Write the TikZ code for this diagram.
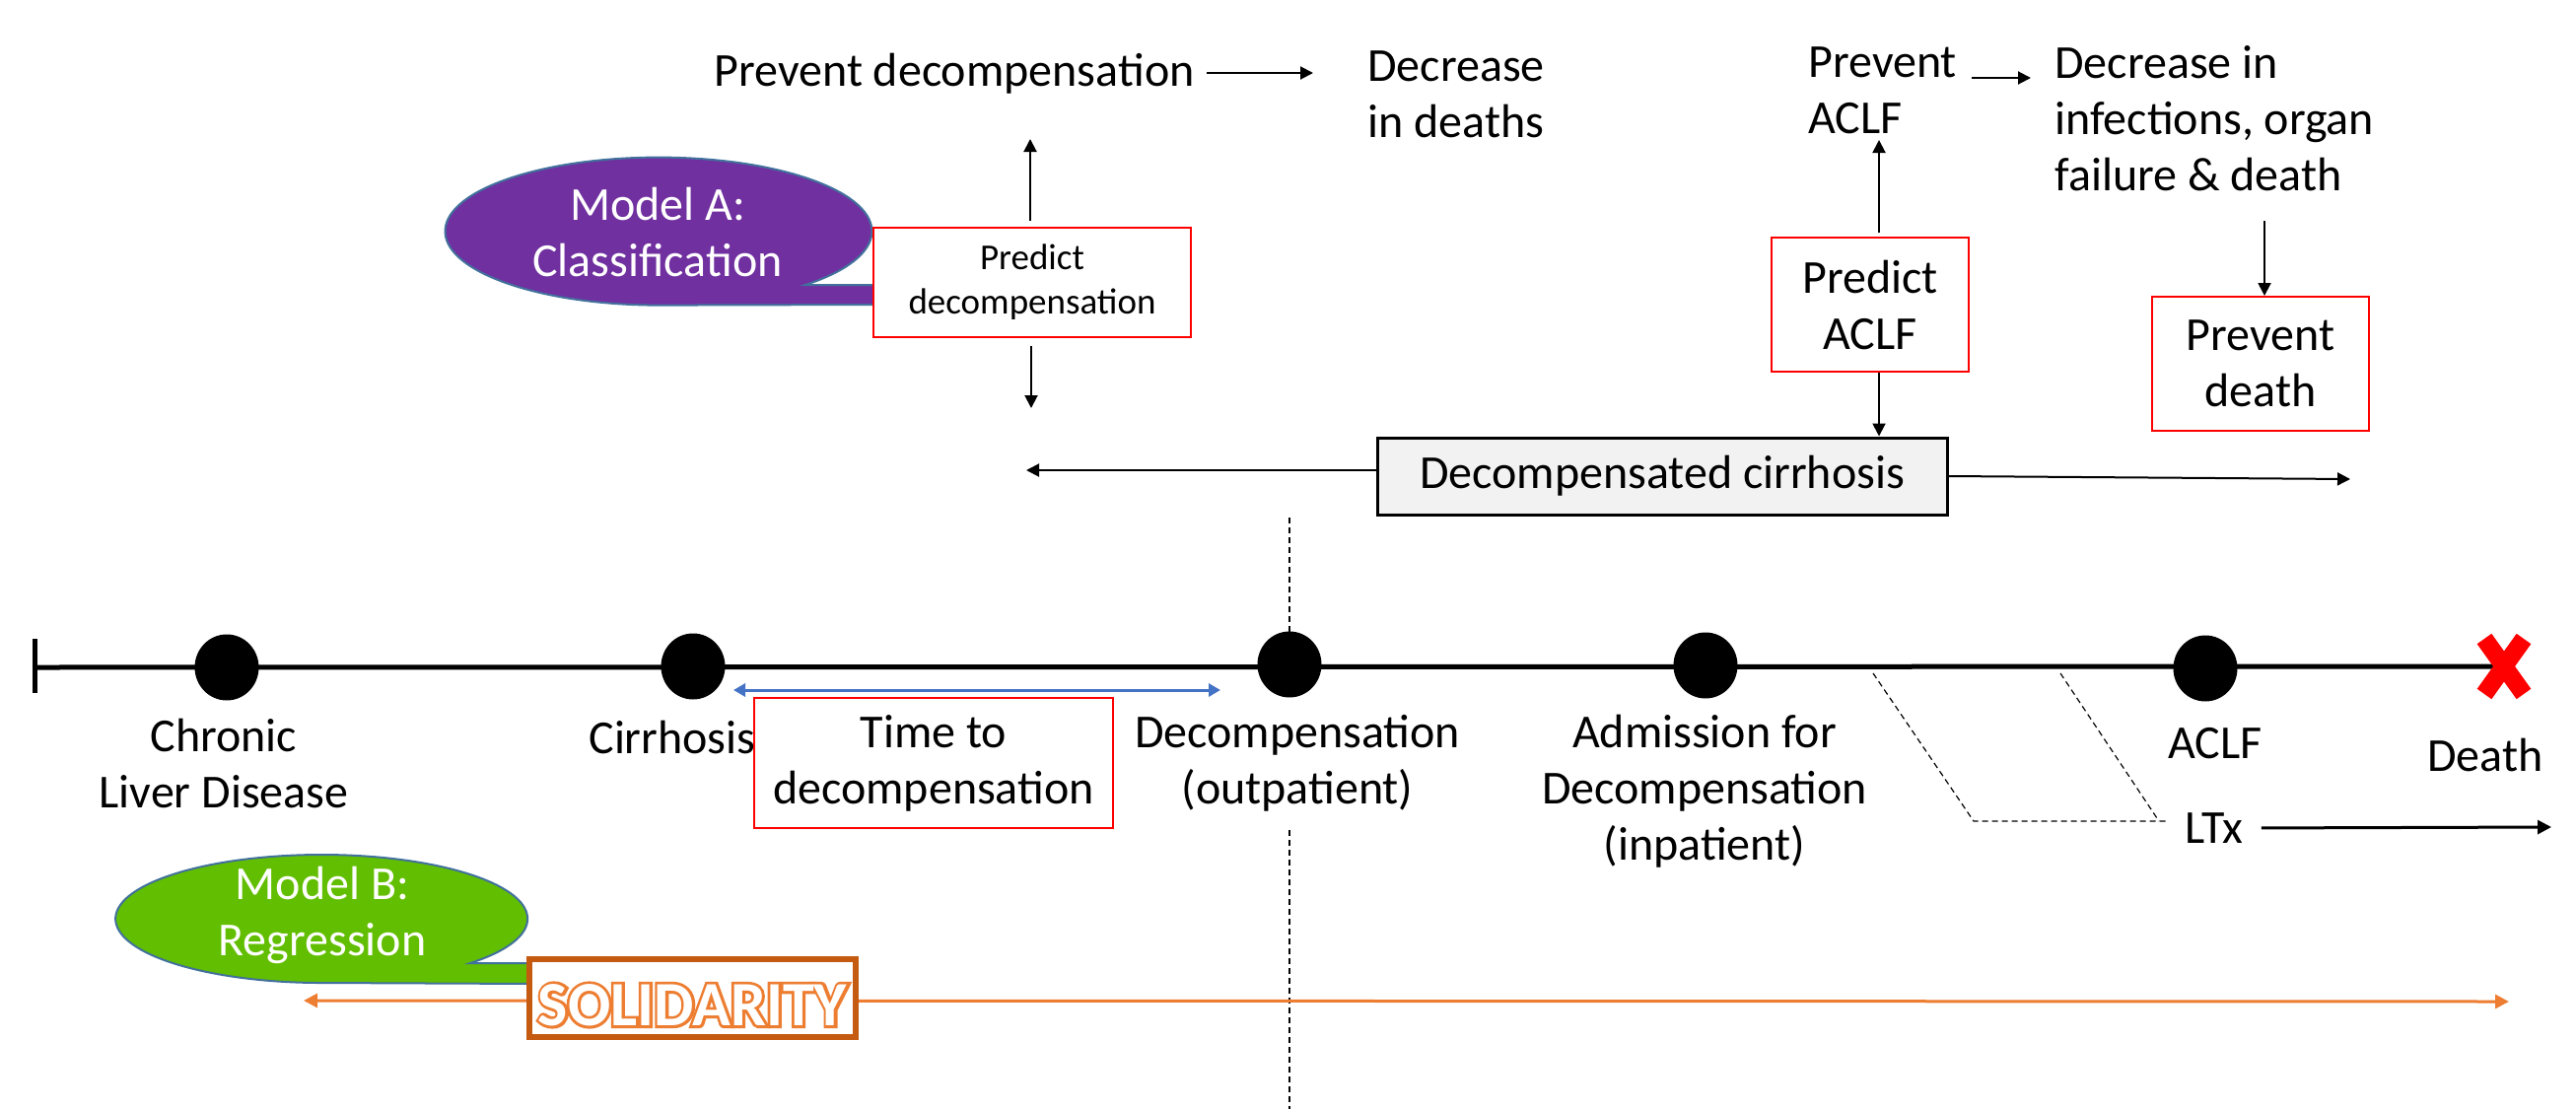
\documentclass[tikz,border=0pt]{standalone}
\usepackage{fontspec}
\setmainfont{Carlito}
\newfontfamily\solrim[FakeBold=9]{Carlito Bold}
\newfontfamily\solin{Carlito Bold}
\usetikzlibrary{arrows.meta,calc,shapes.geometric}
\definecolor{purp}{HTML}{7030A0}
\definecolor{lime}{RGB}{98,190,0}
\definecolor{outl}{HTML}{41719C}
\definecolor{redb}{HTML}{FF0000}
\definecolor{grayf}{HTML}{F2F2F2}
\definecolor{blu}{HTML}{4472C4}
\definecolor{ora}{HTML}{ED7D31}
\definecolor{orad}{HTML}{C55A11}
\begin{document}
\begin{tikzpicture}[x=0.5pt,y=-0.5pt,
  big/.style={font=\fontsize{24}{28.5}\selectfont, inner sep=0pt, align=center},
  small/.style={font=\fontsize{18.5}{22.5}\selectfont, align=center},
  redbox/.style={draw=redb, line width=1pt, fill=white, inner sep=0pt},
  arr/.style={-{Triangle[length=6.5pt,width=6.5pt]}, line width=1pt},
  dot/.style={ellipse, fill=black, minimum width=32.5pt, minimum height=33.5pt, inner sep=0pt},
  dsh/.style={dash pattern=on 3pt off 2pt, line width=0.6pt},
  callout/.style={draw=outl, line width=1pt},
]
\useasboundingbox (0,0) rectangle (2613,1125);

% ---------- top left ----------
\node[big] (prevdec) at (968,75) {Prevent decompensation};
\node[big, align=left, anchor=west] (decdeath) at (1387,96) {Decrease\\in deaths};
\coordinate (pa0) at (1224,74);
\coordinate (pa1) at (1332,74);
\draw[arr] (pa0) -- (pa1);

\fill[purp, callout] (817,289) arc[start angle=46.5, end angle=-270, x radius=216.5, y radius=75] -- (895,309) -- (895,289) -- cycle;
\node[big, text=white] (ma) at (667,236) {Model A:\\Classification};

\node[redbox, small, minimum width=161pt, minimum height=55.5pt] (pdbox) at (1047,286) {Predict\\decompensation};
\coordinate (upA) at (1045,141);
\draw[arr, shorten <=3pt] (pdbox.north -| upA) -- (upA);
\coordinate (dnA) at (1046,414);
\draw[arr, shorten <=4pt] (pdbox.south -| dnA) -- (dnA);

\node[draw, fill=grayf, line width=1.5pt, big, minimum width=289pt, minimum height=39pt] (dc) at (1686,483) {Decompensated cirrhosis};
\coordinate (dcl) at (1041,477);
\draw[arr] (dc.west |- dcl) -- (dcl);
\coordinate (dcr) at (2384,486);
\draw[arr] (dc.east) -- (dcr);

% ---------- top right ----------
\node[big, align=left, anchor=west] (pa) at (1834,92) {Prevent\\ACLF};
\node[big, align=left, anchor=west] (dinf) at (2084,120) {Decrease in\\infections, organ\\failure \& death};
\coordinate (pr0) at (2000,79);
\coordinate (pr1) at (2060,79);
\draw[arr] (pr0) -- (pr1);

\node[redbox, big, minimum width=100pt, minimum height=68pt] (paclf) at (1897,309) {Predict\\ACLF};
\coordinate (paup) at (1906,142);
\draw[arr, shorten <=2pt] (paclf.north -| paup) -- (paup);
\draw[arr] (paclf.south -| paup) -- (paup |- dc.north);

\node[redbox, big, minimum width=110pt, minimum height=68pt] (pdeath) at (2293,369) {Prevent\\death};
\coordinate (pdA) at (2297,224);
\draw[arr] (pdA) -- (pdA |- pdeath.north);

% ---------- vertical dashed ----------
\coordinate (v1) at (1308,525);
\coordinate (v2) at (1308,642);
\coordinate (v3) at (1308,842);
\coordinate (v4) at (1308,1125);
\draw[dsh] (v1) -- (v2);
\draw[dsh] (v3) -- (v4);

% ---------- timeline ----------
\coordinate (t0) at (35,677);
\coordinate (dx) at (2540,676);
\draw[line width=2.5pt] (t0) -- (dx);
\draw[line width=2.5pt] ([yshift=14.5pt]t0) -- ([yshift=-13pt]t0);
\node[dot] (cld) at (230,677) {};
\node[dot] (cir) at (703,676) {};
\node[dot] (dec) at (1308,674) {};
\node[dot] (adm) at (1730,675) {};
\node[dot] (aclf) at (2237,678) {};
\draw[redb, line width=9pt] ($(dx)+(-20,-28)$) -- ($(dx)+(20,28)$);
\draw[redb, line width=9pt] ($(dx)+(20,-28)$) -- ($(dx)+(-20,28)$);

\node[big] (lcld) at (227,774) {Chronic\\Liver Disease};
\node[big] (lcir) at (682,748) {Cirrhosis};
\node[redbox, big, minimum width=182pt, minimum height=66pt] (tbox) at (947,774) {Time to\\decompensation};
\coordinate (b1) at (744,700);
\coordinate (b2) at (1238,700);
\draw[blu, line width=1.5pt, {Triangle[length=6pt,width=6.5pt]}-{Triangle[length=6pt,width=6.5pt]}] (b1) -- (b2);
\node[big] (ldec) at (1316,774) {Decompensation\\(outpatient)};
\node[big] (ladm) at (1729,803) {Admission for\\Decompensation\\(inpatient)};
\node[big] (laclf) at (2247,754) {ACLF};
\node[big] (ldeath) at (2521,766) {Death};

\coordinate (l1) at (1900,683);
\coordinate (l2) at (2002,833);
\coordinate (l3) at (2200,833);
\coordinate (l4) at (2090,683);
\coordinate (l5) at (2190,833);
\draw[dsh] (l1) -- (l2) -- (l3);
\draw[dsh] (l4) -- (l5);
\node[big] (ltx) at (2246,840) {LTx};
\coordinate (ltxe) at (2588,839);
\draw[-{Triangle[length=7pt,width=7pt]}, line width=1.5pt, shorten <=9pt] (ltx.east) -- (ltxe);

% ---------- bottom ----------
\coordinate (o1) at (308,1015);
\coordinate (o2) at (2545,1016);
\draw[ora, line width=1.5pt, {Triangle[length=7pt,width=7pt]}-{Triangle[length=7pt,width=7pt]}] (o1) -- (o2);

\fill[lime, callout] (477,977) arc[start angle=43.8, end angle=-270, x radius=209, y radius=65] -- (545,998) -- (545,977) -- cycle;
\node[big, text=white] (mb) at (327,928) {Model B:\\Regression};

\node[draw=orad, line width=3pt, fill=white, minimum width=165.5pt, minimum height=39.5pt, inner sep=0pt] (sol) at (702.5,1012.5) {};
\node[font=\solrim\fontsize{32}{32}\selectfont, text=ora, inner sep=0pt] (solout) at ($(sol.center)+(0,7)$) {SOLIDARITY};
\node[font=\solin\fontsize{32}{32}\selectfont, text=white, inner sep=0pt] (soltxt) at (solout.center) {SOLIDARITY};
\end{tikzpicture}
\end{document}
